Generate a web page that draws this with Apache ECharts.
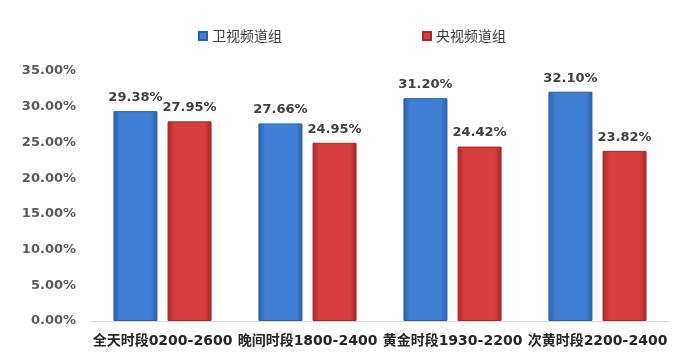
<!DOCTYPE html>
<html><head><meta charset="utf-8">
<script src="https://cdn.jsdelivr.net/npm/echarts@6/dist/echarts.min.js"></script>
<style>html,body{margin:0;padding:0;background:#fff}#c{width:677px;height:362px}</style>
</head><body><div id="c"></div>
<script>
var categories = ['全天时段0200-2600', '晚间时段1800-2400', '黄金时段1930-2200', '次黄时段2200-2400'];
var seriesNames = ['卫视频道组', '央视频道组'];
var satelliteValues = [29.38, 27.66, 31.20, 32.10];
var cctvValues = [27.95, 24.95, 24.42, 23.82];
var yTicks = [0, 5, 10, 15, 20, 25, 30, 35];

function grad(edge, mid) {
  return new echarts.graphic.LinearGradient(0, 0, 1, 0, [
    {offset: 0, color: edge}, {offset: 0.15, color: mid}, {offset: 0.85, color: mid}, {offset: 1, color: edge}
  ]);
}
var chart = echarts.init(document.getElementById('c'));
var labelStyle = {show: true, position: 'top', distance: 7, fontFamily: 'DejaVu Sans', fontWeight: 'bold', fontSize: 13, color: '#404040',
  formatter: function (p) { return p.value.toFixed(2) + '%'; }};
chart.setOption({
  animation: false,
  legend: {
    top: 24, left: 193, itemGap: 140, icon: 'rect', itemWidth: 8, itemHeight: 8,
    textStyle: {fontFamily: 'Noto Sans CJK SC', fontSize: 14, color: '#404040'},
    data: seriesNames
  },
  grid: {left: 90, right: 7, top: 71, bottom: 41},
  xAxis: {
    type: 'category', data: categories,
    axisLine: {lineStyle: {color: '#d9d9d9'}}, axisTick: {show: false},
    axisLabel: {fontFamily: 'DejaVu Sans, Noto Sans CJK SC', fontWeight: 'bold', fontSize: 14, color: '#262626', margin: 13, interval: 0}
  },
  yAxis: {
    type: 'value', min: yTicks[0], max: yTicks[yTicks.length - 1], interval: 5,
    splitLine: {show: false}, axisLine: {show: false}, axisTick: {show: false},
    axisLabel: {fontFamily: 'DejaVu Sans', fontWeight: 'bold', fontSize: 13, color: '#595959', margin: 14,
      formatter: function (v) { return v.toFixed(2) + '%'; }}
  },
  series: [
    {name: seriesNames[0], type: 'bar', data: satelliteValues, barWidth: 44, barGap: '23%',
      itemStyle: {color: grad('#2a5ea6', '#3f80d6'), borderColor: '#2a5ea6', borderWidth: 1}, label: labelStyle},
    {name: seriesNames[1], type: 'bar', data: cctvValues, barWidth: 44,
      itemStyle: {color: grad('#a52828', '#d63d3d'), borderColor: '#a52828', borderWidth: 1}, label: labelStyle}
  ]
});
</script></body></html>
